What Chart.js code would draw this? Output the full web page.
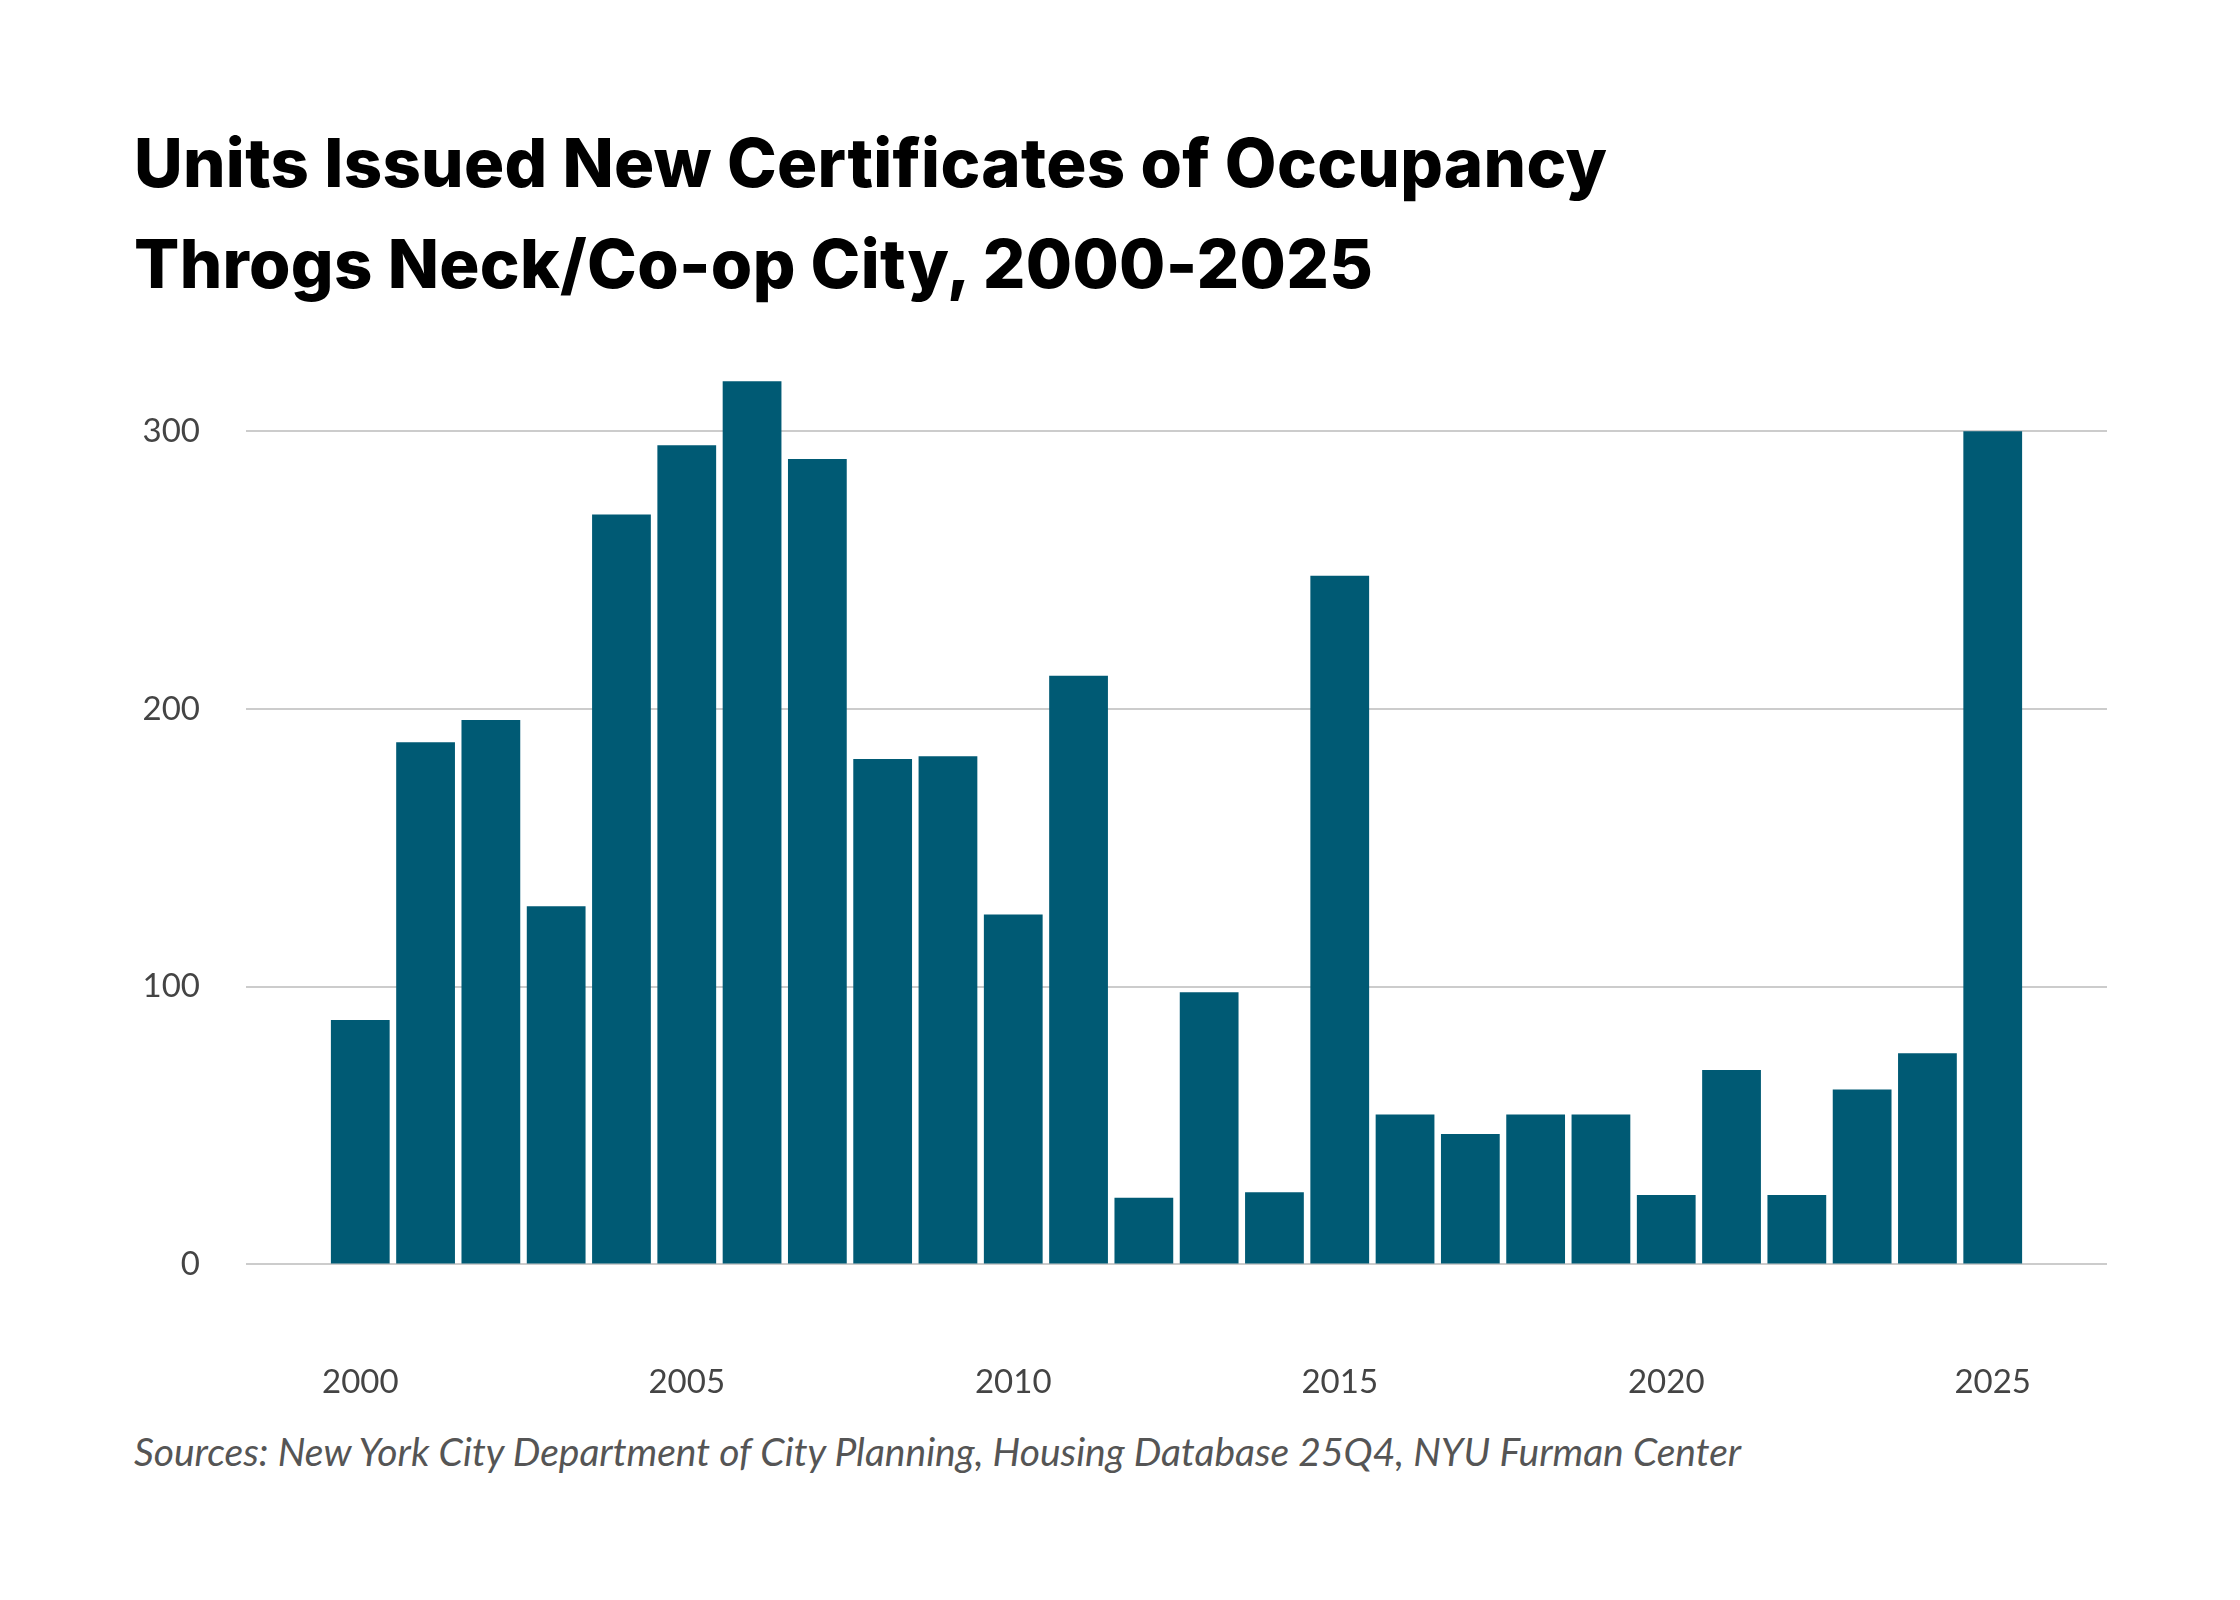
<!DOCTYPE html>
<html><head><meta charset="utf-8">
<script src="https://cdn.jsdelivr.net/npm/chart.js@4"></script>
<style>
html,body{margin:0;padding:0;background:#fff;width:2240px;height:1600px;overflow:hidden}
#t{position:absolute;left:134px;top:112px;font-family:Inter,"Noto Sans",sans-serif;font-weight:800;font-size:67px;line-height:101px;color:#000;letter-spacing:0.3px}
#s{position:absolute;left:134px;top:1428px;font-family:Lato,"Open Sans",sans-serif;font-style:italic;font-size:39px;color:#555}
canvas{position:absolute;left:0;top:0}
</style></head><body>
<div id="t">Units Issued New Certificates of Occupancy<br>Throgs Neck/Co-op City, 2000-2025</div>
<div id="s">Sources: New York City Department of City Planning, Housing Database 25Q4, NYU Furman Center</div>
<canvas id="c" width="2240" height="1600"></canvas>
<script>
const years=[2000,2001,2002,2003,2004,2005,2006,2007,2008,2009,2010,2011,2012,2013,2014,2015,2016,2017,2018,2019,2020,2021,2022,2023,2024,2025];
const units=[88,188,196,129,270,295,318,290,182,183,126,212,24,98,26,248,54,47,54,54,25,70,25,63,76,300];
const yTicks=[0,100,200,300];
new Chart(document.getElementById('c'),{
type:'bar',
data:{datasets:[{data:years.map((y,i)=>({x:y,y:units[i]})),backgroundColor:'#005a74',barPercentage:0.9,categoryPercentage:1}]},
options:{responsive:false,animation:false,
layout:{padding:{left:134,right:133,top:348,bottom:108}},
plugins:{legend:{display:false},tooltip:{enabled:false}},
scales:{
x:{type:'linear',offset:false,min:1998.25,max:2026.75,grid:{display:false},border:{display:false},
ticks:{stepSize:5,padding:90,color:'#444',font:{family:'Lato',size:33},callback:v=>v%5===0?String(v):''},
afterBuildTicks:a=>{a.ticks=[2000,2005,2010,2015,2020,2025].map(v=>({value:v}));}},
y:{min:0,max:330,grid:{color:'#cccccc',lineWidth:2,drawTicks:false},border:{display:false},
afterBuildTicks:a=>{a.ticks=yTicks.map(v=>({value:v}));},
afterFit:a=>{a.width=112;},
ticks:{padding:46,color:'#444',font:{family:'Lato',size:33}}}
}}});
</script></body></html>
